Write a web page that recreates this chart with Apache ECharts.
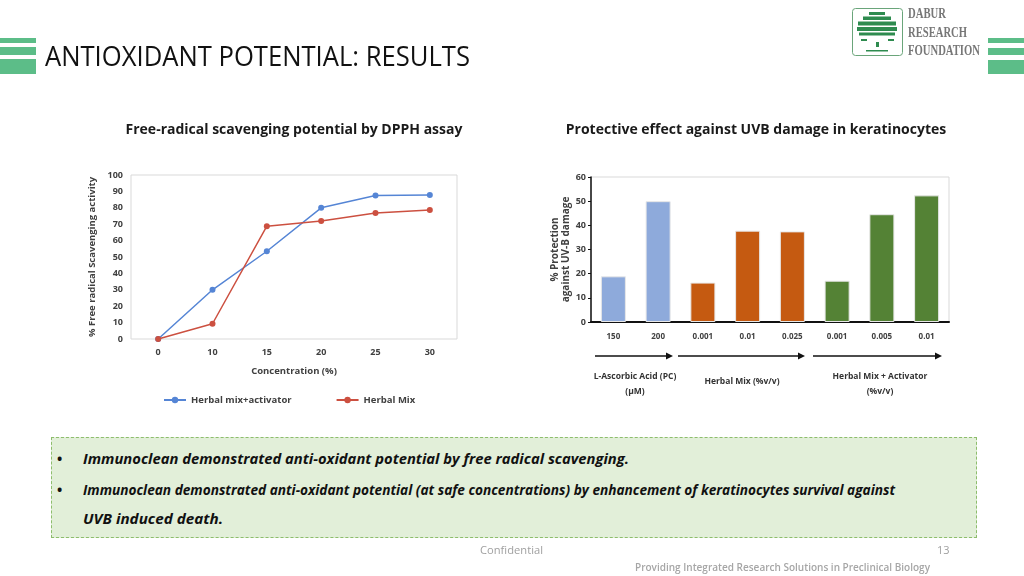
<!DOCTYPE html>
<html>
<head>
<meta charset="utf-8">
<title>Antioxidant potential: results</title>
<script src="https://cdn.jsdelivr.net/npm/echarts/dist/echarts.min.js"></script>
<style>
  body { margin: 0; width: 1024px; height: 576px; overflow: hidden; background: #fff; position: relative; font-family: "Open Sans", sans-serif; }
  #chart { position: absolute; left: 0; top: 0; width: 1024px; height: 576px; }
  .abs { position: absolute; white-space: nowrap; transform-origin: 0 50%; line-height: 1; }
  .gbar { position: absolute; background: #5cbd88; }
  #note { position: absolute; left: 51px; top: 437px; width: 924px; height: 99px; background: #e2efd9; border: 1px dashed #8dbd6c; }
  .bl { font-weight: bold; font-style: italic; font-size: 14px; color: #111; }
  .logo-t { font-family: "Liberation Serif", serif; color: #777; font-size: 14px; font-weight: bold; }
</style>
</head>
<body>
<div id="chart"></div>

<!-- header -->
<div class="gbar" style="left:0;top:38px;width:36px;height:5px"></div>
<div class="gbar" style="left:0;top:47px;width:36px;height:8px"></div>
<div class="gbar" style="left:0;top:59px;width:36px;height:15px"></div>
<div class="gbar" style="left:988px;top:38px;width:36px;height:5px"></div>
<div class="gbar" style="left:988px;top:48px;width:36px;height:7px"></div>
<div class="gbar" style="left:988px;top:60px;width:36px;height:14px"></div>
<div id="title" class="abs" style="left:45px;top:41px;font-size:28px;color:#111">ANTIOXIDANT POTENTIAL: RESULTS</div>

<svg style="position:absolute;left:852px;top:8px" width="52" height="49" viewBox="0 0 52 49">
  <rect x="0.5" y="0.5" width="50" height="47" rx="3" fill="#fff" stroke="#6aa57a" stroke-width="1"/>
  <g fill="#2e8b4f">
    <rect x="17" y="4" width="16" height="3"/>
    <rect x="11" y="8.5" width="28" height="3.5"/>
    <rect x="6" y="13.5" width="38" height="4"/>
    <rect x="5" y="19" width="40" height="4"/>
    <rect x="7" y="24.5" width="36" height="3"/>
    <rect x="9" y="31" width="6" height="2"/>
    <rect x="36" y="31" width="6" height="2"/>
    <rect x="24" y="34" width="3" height="5"/>
    <rect x="14" y="42" width="22" height="1.5"/>
  </g>
</svg>
<div id="lg1" class="abs logo-t" style="left:908px;top:7px">DABUR</div>
<div id="lg2" class="abs logo-t" style="left:908px;top:26px">RESEARCH</div>
<div id="lg3" class="abs logo-t" style="left:908px;top:44px">FOUNDATION</div>

<!-- conclusions box -->
<div id="note"></div>
<div class="abs bl" style="left:57px;top:452px;font-style:normal">&bull;</div>
<div class="abs bl" style="left:57px;top:483px;font-style:normal">&bull;</div>
<div id="b1" class="abs bl" style="left:83px;top:452px">Immunoclean demonstrated anti-oxidant potential by free radical scavenging.</div>
<div id="b2" class="abs bl" style="left:83px;top:483px">Immunoclean demonstrated anti-oxidant potential (at safe concentrations) by enhancement of keratinocytes survival against</div>
<div id="b3" class="abs bl" style="left:83px;top:512px">UVB induced death.</div>

<!-- footer -->
<div id="conf" class="abs" style="left:480px;top:544px;font-size:11px;color:#a0a0a0">Confidential</div>
<div class="abs" style="left:937px;top:544px;font-size:11px;color:#a0a0a0">13</div>
<div id="tag" class="abs" style="left:635px;top:562px;font-size:10px;font-weight:600;color:#a6a6a6">Providing Integrated Research Solutions in Preclinical Biology</div>

<script>
// --- data: DPPH assay (left) ---
const concLabels = ['0', '10', '15', '20', '25', '30'];
const mixActivator = [0, 30, 53.5, 80, 87.5, 87.8];
const herbalMix = [0, 9.3, 68.8, 71.9, 76.8, 78.7];
const seriesNames = ['Herbal mix+activator', 'Herbal Mix'];

// --- data: UVB protection (right) ---
const uvbDoses = ['150', '200', '0.001', '0.01', '0.025', '0.001', '0.005', '0.01'];
const uvbProtection = [18.9, 50, 16.3, 37.8, 37.5, 17.1, 44.6, 52.4];
const uvbGroup = [0, 0, 1, 1, 1, 2, 2, 2];
const groupLabels = ['L-Ascorbic Acid (PC)\n(µM)', 'Herbal Mix (%v/v)', 'Herbal Mix + Activator\n(%v/v)'];

const groupColors = ['#8eaadb', '#c55a11', '#548235'];
const axisText = { color: '#404040', fontWeight: 'bold', fontSize: 9, fontFamily: 'Open Sans' };

// squeeze html text to the widths seen on the slide
function fit(id, w) {
    const el = document.getElementById(id);
    const r = el.getBoundingClientRect().width;
    el.style.transform = 'scaleX(' + (w / r) + ')';
}
fit('title', 425);
fit('lg1', 38); fit('lg2', 59); fit('lg3', 72);
fit('b1', 546); fit('b2', 812); fit('b3', 140);
fit('conf', 63);
fit('tag', 295);

// arrows under the bar chart groups
function arrow(x1, x2, y) {
    return [
        { type: 'line', shape: { x1: x1, y1: y, x2: x2 - 5, y2: y }, style: { stroke: '#111', lineWidth: 1.5 } },
        { type: 'polygon', shape: { points: [[x2 - 7, y - 3.5], [x2, y], [x2 - 7, y + 3.5]] }, style: { fill: '#111' } }
    ];
}
const groupText = { fontSize: 8.5, fontWeight: 'bold', fill: '#333', fontFamily: 'Open Sans', align: 'center', verticalAlign: 'top', lineHeight: 15 };

const chart = echarts.init(document.getElementById('chart'));
chart.setOption({
    animation: false,
    title: [
        { text: 'Free-radical scavenging potential by DPPH assay', left: 289, top: 118, textAlign: 'center',
          textStyle: { fontSize: 14, fontWeight: 'bold', color: '#1a1a1a', fontFamily: 'Open Sans' } },
        { text: 'Protective effect against UVB damage in keratinocytes', left: 751, top: 118, textAlign: 'center',
          textStyle: { fontSize: 14, fontWeight: 'bold', color: '#1a1a1a', fontFamily: 'Open Sans' } }
    ],
    grid: [
        { left: 131, top: 175, width: 326, height: 164, show: true, borderColor: '#d9d9d9', borderWidth: 1 },
        { left: 591, top: 177, width: 358, height: 145, show: true, borderColor: '#d9d9d9', borderWidth: 1 }
    ],
    legend: {
        data: seriesNames, left: 158, top: 390, itemWidth: 22, itemHeight: 8, itemGap: 44,
        textStyle: { ...axisText, fontSize: 9.5 }
    },
    xAxis: [
        { type: 'category', gridIndex: 0, data: concLabels,
          name: 'Concentration (%)', nameLocation: 'middle', nameGap: 27, nameTextStyle: { ...axisText, fontSize: 9.5 },
          axisLine: { show: false }, axisTick: { show: false }, axisLabel: { ...axisText, margin: 9 } },
        { type: 'category', gridIndex: 1, data: uvbDoses,
          axisLine: { lineStyle: { color: '#111', width: 2 } }, axisTick: { show: false },
          axisLabel: { ...axisText, fontSize: 8, margin: 11 } }
    ],
    yAxis: [
        { type: 'value', gridIndex: 0, min: 0, max: 100, interval: 10,
          name: '% Free radical Scavenging activity', nameLocation: 'middle', nameRotate: 90, nameGap: 34,
          nameTextStyle: { ...axisText, fontSize: 9.5 },
          axisLine: { show: false }, axisTick: { show: false }, splitLine: { show: false },
          axisLabel: { ...axisText, margin: 8 } },
        { type: 'value', gridIndex: 1, min: 0, max: 60, interval: 10,
          name: '% Protection\nagainst UV-B damage', nameLocation: 'middle', nameRotate: 90, nameGap: 17,
          nameTextStyle: { ...axisText, fontSize: 10, lineHeight: 11 },
          axisLine: { show: true, lineStyle: { color: '#111', width: 1.5 } },
          axisTick: { show: true, length: 3, lineStyle: { color: '#111' } }, splitLine: { show: false },
          axisLabel: { ...axisText, margin: 5 } }
    ],
    series: [
        { name: seriesNames[0], type: 'line', xAxisIndex: 0, yAxisIndex: 0, data: mixActivator,
          symbol: 'circle', symbolSize: 6, color: '#5585d5', lineStyle: { width: 1.5 } },
        { name: seriesNames[1], type: 'line', xAxisIndex: 0, yAxisIndex: 0, data: herbalMix,
          symbol: 'circle', symbolSize: 6, color: '#cc5040', lineStyle: { width: 1.5 } },
        { type: 'bar', xAxisIndex: 1, yAxisIndex: 1, barWidth: '56%',
          data: uvbProtection.map((v, i) => ({ value: v, itemStyle: { color: groupColors[uvbGroup[i]] } })),
          itemStyle: { borderColor: '#e8e8e8', borderWidth: 1 } }
    ],
    graphic: [
        ...arrow(595, 673, 356),
        ...arrow(678, 805, 356),
        ...arrow(813, 942, 356),
        { type: 'text', x: 635, y: 369, style: { ...groupText, text: groupLabels[0] } },
        { type: 'text', x: 742, y: 374, style: { ...groupText, text: groupLabels[1] } },
        { type: 'text', x: 880, y: 369, style: { ...groupText, text: groupLabels[2] } }
    ]
});
</script>
</body>
</html>
